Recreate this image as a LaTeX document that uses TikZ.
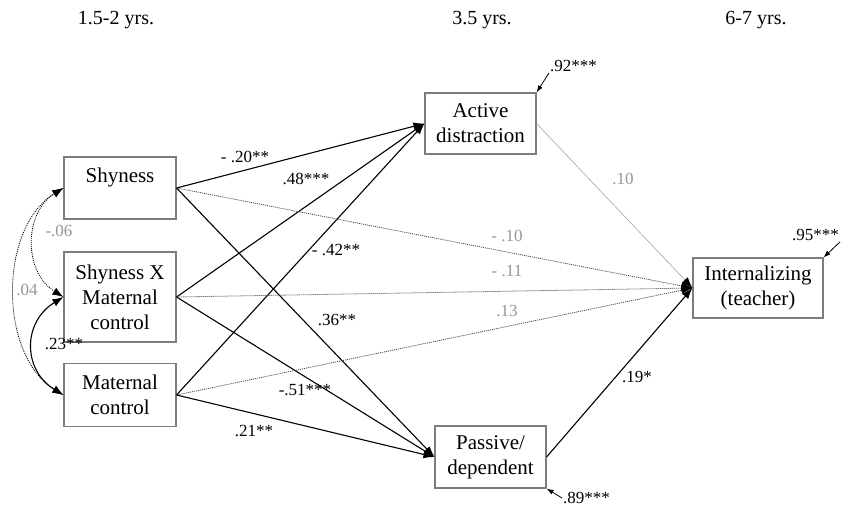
\documentclass[tikz,border=0pt]{standalone}
\usepackage{fontspec}
\setmainfont{Liberation Serif}
\usetikzlibrary{arrows.meta}

\definecolor{boxgray}{RGB}{125,125,125}
\definecolor{nsgray}{RGB}{150,150,150}

\begin{document}
\begin{tikzpicture}[x=1pt,y=-1pt,
        var/.style={rectangle,draw=boxgray,line width=1.1pt,align=center,font=\fontsize{21}{25}\selectfont},
        coef/.style={inner sep=1pt,font=\fontsize{17}{19}\selectfont},
        nscoef/.style={coef,text=nsgray},
        path/.style={line width=1.1pt,-{Latex[length=11pt,width=8pt]}},
        nspath/.style={black!75,line width=0.8pt,dash pattern=on 1pt off 1pt,-{Latex[length=11pt,width=8pt,black]}},
        cov/.style={line width=1.1pt,{Latex[length=11pt,width=8pt]}-{Latex[length=11pt,width=8pt]}},
        nscov/.style={line width=0.8pt,dash pattern=on 1pt off 1pt,{Latex[length=11pt,width=8pt]}-{Latex[length=11pt,width=8pt]}},
        resid/.style={line width=0.8pt,-{Latex[length=7pt,width=5pt]}}]
        \useasboundingbox[fill=white] (0,0) rectangle (847,506);

        \node[font=\fontsize{20}{22}\selectfont] (wave1) at (116,20) {1.5-2 yrs.};
        \node[font=\fontsize{20}{22}\selectfont] (wave2) at (482,20) {3.5 yrs.};
        \node[font=\fontsize{20}{22}\selectfont] (wave3) at (756,20) {6-7 yrs.};

        \node[var,minimum width=112pt,minimum height=62pt] (shy) at (120,188) {Shyness\\~};
        \node[var,minimum width=112pt,minimum height=90pt] (sxm) at (120,297) {Shyness X\\Maternal\\control};
        \node[var,minimum width=112pt,minimum height=63pt] (mat) at (120,395) {Maternal\\control};
        \node[var,minimum width=111pt,minimum height=61pt] (act) at (480.5,123.5) {Active\\distraction};
        \node[var,minimum width=111pt,minimum height=62pt] (pas) at (490.5,457) {Passive/\\dependent};
        \node[var,minimum width=130pt,minimum height=60pt] (int) at (758,288) {Internalizing\\(teacher)};

        \draw[path] (shy.east) -- (act.west);
        \draw[path] (sxm.east) -- (act.west);
        \draw[path] (mat.east) -- (act.west);
        \draw[path] (shy.east) -- (pas.west);
        \draw[path] (sxm.east) -- (pas.west);
        \draw[path] (mat.east) -- (pas.west);
        \draw[nspath] (shy.east) -- (int.west);
        \draw[nspath] (sxm.east) -- (int.west);
        \draw[nspath] (mat.east) -- (int.west);
        \draw[nspath,nsgray,line width=0.6pt,dash pattern=on 0.6pt off 0.4pt] (act.east) -- (int.west);
        \draw[path] (pas.east) -- (int.west);

        \draw[nscov] (shy.west) .. controls +(-40,25) and +(-40,-25) .. (sxm.west);
        \draw[nscov] (shy.west) .. controls +(-65,40) and +(-65,-40) .. (mat.west);
        \draw[cov] (sxm.west) .. controls +(-41,25) and +(-41,-25) .. (mat.west);

        \node[nscoef] (c1) at (59,231) {-.06};
        \node[nscoef] (c2) at (27,290) {.04};
        \node[coef] (c3) at (64,344) {.23**};

        \node[coef] (b1) at (245,157) {- .20**};
        \node[coef] (b2) at (306,179) {.48***};
        \node[coef] (b3) at (336,250) {- .42**};
        \node[coef] (b4) at (337,320) {.36**};
        \node[coef] (b5) at (305,390) {-.51***};
        \node[coef] (b6) at (254,431) {.21**};
        \node[nscoef] (b7) at (623,179) {.10};
        \node[nscoef] (b8) at (507,236) {- .10};
        \node[nscoef] (b9) at (507,271) {- .11};
        \node[nscoef] (b10) at (507,311) {.13};
        \node[coef] (b11) at (637,377) {.19*};

        \node[coef,anchor=west] (e1) at (549,66) {.92***};
        \node[coef,anchor=west] (e2) at (562,498) {.89***};
        \node[coef,anchor=east] (e3) at (840,235) {.95***};
        \draw[resid] (e1.south west) -- (act.north east);
        \draw[resid] (e2.west) -- (pas.south east);
        \draw[resid] (e3.south east) -- (int.north east);
    \end{tikzpicture}
\end{document}
